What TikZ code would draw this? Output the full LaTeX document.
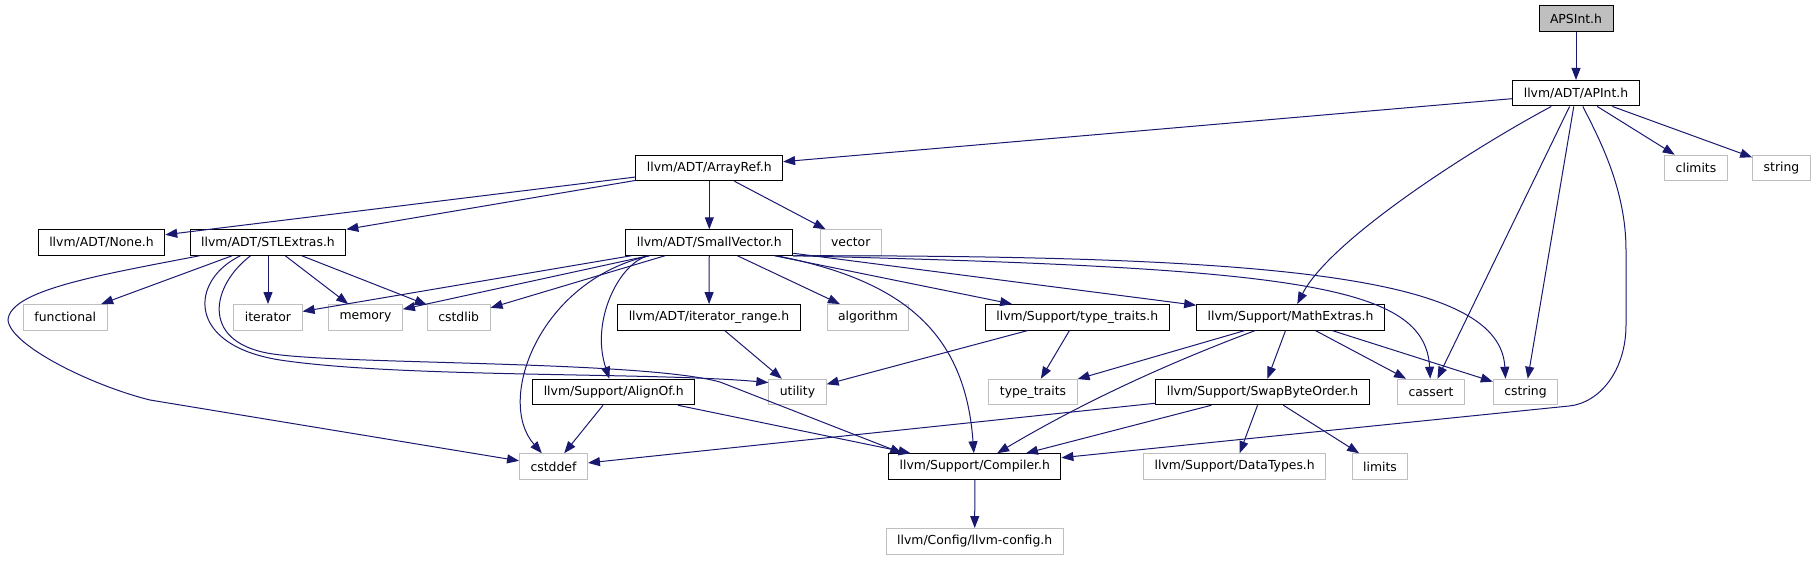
\documentclass[tikz,border=0pt]{standalone}
\usepackage{fontspec}
\setmainfont{DejaVu Sans}
\usetikzlibrary{arrows.meta}
\definecolor{edgeblue}{RGB}{25,25,112}
\definecolor{sysgrey}{RGB}{191,191,191}

\begin{document}
\begin{tikzpicture}[x=1pt,y=-1pt,
	every node/.style={font=\fontsize{12.4pt}{15pt}\selectfont},
	doc/.style={draw=black,fill=white,line width=1pt,inner xsep=11pt,inner ysep=0pt,minimum height=25.5pt},
	sys/.style={doc,draw=sysgrey},
	inc/.style={draw=edgeblue,line width=1pt,-{Triangle[length=12pt,width=9pt]}}]
	\useasboundingbox (0,0) rectangle (1816,560);
			\node[doc,fill=sysgrey] (apsint) at (1576,18.5) {APSInt.h};
			\node[doc] (apint) at (1576,93.2) {llvm/ADT/APInt.h};
			\node[doc] (arrayref) at (709.3,168) {llvm/ADT/ArrayRef.h};
			\node[sys] (climits) at (1696,168) {climits};
			\node[sys] (string) at (1781.5,168) {string};
			\node[doc] (none) at (101.5,242.5) {llvm/ADT/None.h};
			\node[doc] (stlextras) at (268,242.5) {llvm/ADT/STLExtras.h};
			\node[doc] (smallvector) at (709.3,242.5) {llvm/ADT/SmallVector.h};
			\node[sys] (vector) at (850.7,242.5) {vector};
			\node[sys] (functional) at (65.3,317.3) {functional};
			\node[sys] (iterator) at (268,317.3) {iterator};
			\node[sys] (memory) at (365.5,317.3) {memory};
			\node[sys] (cstdlib) at (458.7,317.3) {cstdlib};
			\node[doc] (iterrange) at (709,317.3) {llvm/ADT/iterator\_range.h};
			\node[sys] (algorithm) at (868,317.3) {algorithm};
			\node[doc] (typetraitsh) at (1077.3,317.3) {llvm/Support/type\_traits.h};
			\node[doc] (mathextras) at (1290.5,317.3) {llvm/Support/MathExtras.h};
			\node[doc] (alignof) at (613.7,392) {llvm/Support/AlignOf.h};
			\node[sys] (utility) at (797.5,392) {utility};
			\node[sys] (typetraits) at (1033,392) {type\_traits};
			\node[doc] (swapbyte) at (1262.5,392) {llvm/Support/SwapByteOrder.h};
			\node[sys] (cassert) at (1431,392) {cassert};
			\node[sys] (cstring) at (1525.5,392) {cstring};
			\node[sys] (cstddef) at (553.5,466.5) {cstddef};
			\node[doc] (compiler) at (974.8,466.5) {llvm/Support/Compiler.h};
			\node[sys] (datatypes) at (1234.7,466.5) {llvm/Support/DataTypes.h};
			\node[sys] (limits) at (1380,466.5) {limits};
			\node[sys] (llvmconfig) at (974.7,541.3) {llvm/Config/llvm-config.h};

			\draw[inc] (apsint) -- (apint);
			\draw[inc] (apint) -- (arrayref);
			\draw[inc] (apint) -- (climits);
			\draw[inc] (apint) -- (string);
			\draw[inc] (apint) -- (cassert);
			\draw[inc] (apint) -- (cstring);
			\draw[inc] (apint) .. controls (1470,150) and (1330,240) .. (mathextras);
			\draw[inc] (apint) .. controls (1600,140) and (1626,190) .. (1626,250) -- (1626,325) .. controls (1626,370) and (1600,403) .. (1569,406) -- (compiler);

			\draw[inc] (arrayref) -- (none);
			\draw[inc] (arrayref) -- (stlextras);
			\draw[inc] (arrayref) -- (smallvector);
			\draw[inc] (arrayref) -- (vector);

			\draw[inc] (stlextras) -- (functional);
			\draw[inc] (stlextras) -- (iterator);
			\draw[inc] (stlextras) -- (memory);
			\draw[inc] (stlextras) -- (cstdlib);
			\draw[inc] (stlextras) .. controls (100,275) and (10,290) .. (8,320) .. controls (10,345) and (90,385) .. (150,400) -- (cstddef);
			\draw[inc] (stlextras) .. controls (190,280) and (185,345) .. (280,360) .. controls (400,378) and (650,372) .. (utility.162);
			\draw[inc] (stlextras) .. controls (212,285) and (200,340) .. (267,353) .. controls (330,365) and (640,360) .. (720,382) -- ([xshift=14pt]compiler.north west);

			\draw[inc] (smallvector) -- (iterator);
			\draw[inc] (smallvector) -- (memory);
			\draw[inc] (smallvector) -- (cstdlib);
			\draw[inc] (smallvector) -- (iterrange);
			\draw[inc] (smallvector) -- (algorithm);
			\draw[inc] (smallvector) -- (typetraitsh);
			\draw[inc] (smallvector) -- (mathextras);
			\draw[inc] (smallvector) .. controls (540,280) and (495,400) .. (cstddef);
			\draw[inc] (smallvector) .. controls (620,262) and (590,320) .. (alignof);
			\draw[inc] (smallvector) .. controls (900,280) and (965,330) .. (compiler);
			\draw[inc] (smallvector.south east) .. controls (1300,268) and (1425,285) .. (cassert);
			\draw[inc] (smallvector.south east) .. controls (1300,255) and (1500,280) .. ([xshift=-20pt]cstring.north);

			\draw[inc] (iterrange) -- (utility);
			\draw[inc] (typetraitsh) -- (utility);
			\draw[inc] (typetraitsh) -- (typetraits);

			\draw[inc] (mathextras) -- (typetraits);
			\draw[inc] (mathextras) -- (swapbyte);
			\draw[inc] (mathextras) -- (cassert);
			\draw[inc] (mathextras) -- (cstring);
			\draw[inc] (mathextras) .. controls (1150,370) and (1070,410) .. (compiler);

			\draw[inc] (alignof) -- (cstddef);
			\draw[inc] (alignof) -- (compiler);

			\draw[inc] (swapbyte) -- (cstddef);
			\draw[inc] (swapbyte) -- (compiler);
			\draw[inc] (swapbyte) -- (datatypes);
			\draw[inc] (swapbyte) -- (limits);

			\draw[inc] (compiler) -- (llvmconfig);
		\end{tikzpicture}
\end{document}
